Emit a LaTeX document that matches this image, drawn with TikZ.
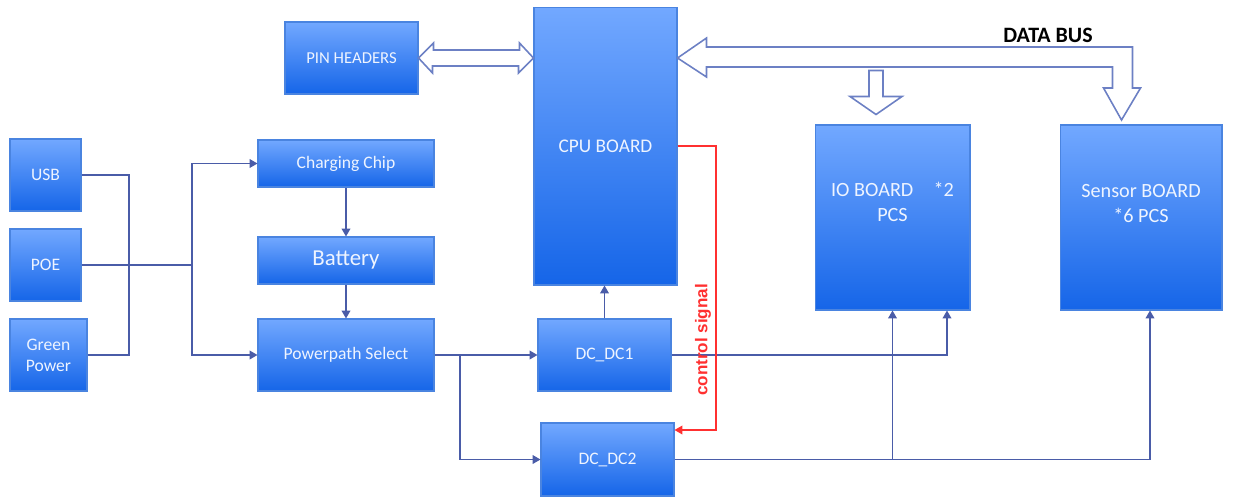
\documentclass[tikz,border=0pt]{standalone}
\usepackage{fontspec}
\setmainfont{Carlito}
\newfontfamily\arialfont{Liberation Sans}
\usetikzlibrary{arrows.meta,calc}
\definecolor{boxtop}{HTML}{72A8FF}
\definecolor{boxbot}{HTML}{1565E8}
\definecolor{boxline}{HTML}{4A84E0}
\definecolor{boxtext}{HTML}{EEF4FF}
\definecolor{wirecol}{HTML}{4A5CA8}
\definecolor{buscol}{HTML}{6C80C4}
\definecolor{ctrlcol}{HTML}{FF3030}
\begin{document}
\begin{tikzpicture}[x=0.02cm,y=-0.02cm,
   block/.style={rectangle,draw=boxline,line width=0.6pt,top color=boxtop,bottom color=boxbot,
     text=boxtext,inner sep=0pt,align=center,font=\fontsize{10}{12}\selectfont},
   wire/.style={draw=wirecol,line width=0.7pt},
   feed/.style={wire,-{Triangle[length=4.5pt,width=5pt]}},
   ctrl/.style={draw=ctrlcol,line width=0.6pt,-{Triangle[length=4.5pt,width=5pt]}},
   bus/.style={draw=buscol,line width=0.9pt,fill=white,line join=miter}]
   \useasboundingbox (0,0) rectangle (1240,498);
   % Sources
   \node[block,minimum width=1.42cm,minimum height=1.44cm] (usb) at (45.5,175) {USB};
   \node[block,minimum width=1.42cm,minimum height=1.44cm] (poe) at (45.5,265) {POE};
   \node[block,minimum width=1.54cm,minimum height=1.44cm] (green) at (48.5,355) {Green\\Power};
   % Power path
   \node[block,minimum width=3.52cm,minimum height=0.94cm] (chip) at (346,163.5) {Charging Chip};
   \node[block,minimum width=3.52cm,minimum height=0.94cm,font=\fontsize{13}{15}\selectfont] (battery) at (346,260.5) {Battery};
   \node[block,minimum width=3.52cm,minimum height=1.44cm] (power) at (346,355) {Powerpath Select};
   \node[block,minimum width=2.66cm,minimum height=1.44cm] (dc1) at (604.5,355) {DC\_DC1};
   \node[block,minimum width=2.66cm,minimum height=1.46cm] (dc2) at (607.5,459.5) {DC\_DC2};
   % Boards
   \node[block,minimum width=2.66cm,minimum height=1.44cm,font=\fontsize{9.5}{11}\selectfont] (pin) at (351.5,58) {PIN HEADERS};
   \node[block,minimum width=2.86cm,minimum height=5.56cm,font=\fontsize{11}{13}\selectfont] (cpu) at (605.5,146) {CPU BOARD};
   \node[block,minimum width=3.10cm,minimum height=3.70cm,font=\fontsize{11.5}{14}\selectfont] (io) at (892.5,217.5) {IO BOARD\hspace{1em}*2\\PCS\\[4pt]\mbox{}};
   \node[block,minimum width=3.24cm,minimum height=3.70cm,font=\fontsize{11.5}{14}\selectfont] (sensor) at (1141,217.5) {Sensor BOARD\\*6 PCS\\[2pt]\mbox{}};
   % Input wiring
   \coordinate (j1) at (129,265);
   \coordinate (j2) at (192,265);
   \draw[wire] (usb.east) -| (j1) |- (green.east);
   \draw[wire] (poe.east) -- (j2);
   \draw[feed] (j2) |- (chip.west);
   \draw[feed] (j2) |- (power.west);
   \draw[feed] (chip.south) -- (battery.north);
   \draw[feed] (battery.south) -- (power.north);
   % Converters
   \coordinate (j3) at (460,355);
   \draw[feed] (power.east) -- (dc1.west);
   \draw[feed] (j3) |- (dc2.west);
   \draw[feed] (dc1.north) -- (dc1.north |- cpu.south);
   \draw[feed] (dc1.east) -| ($(io.south)+(54.5,0)$);
   \draw[feed] (dc2.east) -| ($(sensor.south)+(9,0)$);
   \coordinate (j4) at (io.south |- dc2.east);
   \draw[feed] (j4) -- (io.south);
   % Control signal
   \coordinate (c1) at (716,430);
   \draw[ctrl] (cpu.east) -| (c1) -- (c1 -| dc2.east);
   \node[rotate=90,text=ctrlcol,font=\arialfont\bfseries\fontsize{9.7}{11}\selectfont] (ctrllabel) at (703,340) {control signal};
   % Buses
   \draw[bus] (pin.east) -- ++(15,-15) -- ++(0,7) -- ++(86,0) -- ++(0,-7) -- (cpu.west |- pin.east)
     -- ++(-15,15) -- ++(0,-7) -- ++(-86,0) -- ++(0,7) -- cycle;
   \draw[bus] (cpu.east |- pin.east) -- ++(29,-20) -- ++(0,9) -- ++(426,0) -- ++(0,41) -- ++(8,0)
     -- ++(-19,32) -- ++(-18,-32) -- ++(9,0) -- ++(0,-21) -- ++(-406,0) -- ++(0,10) -- cycle;
   \draw[bus] ($(io.north)+(-23.5,-54)$) -- ++(14,0) -- ++(0,26) -- ++(19,0) -- ++(-26,18)
     -- ++(-26,-18) -- ++(19,0) -- cycle;
   \node[font=\bfseries\fontsize{12.5}{14}\selectfont] (buslabel) at (1048,35) {DATA BUS};
 \end{tikzpicture}
\end{document}
